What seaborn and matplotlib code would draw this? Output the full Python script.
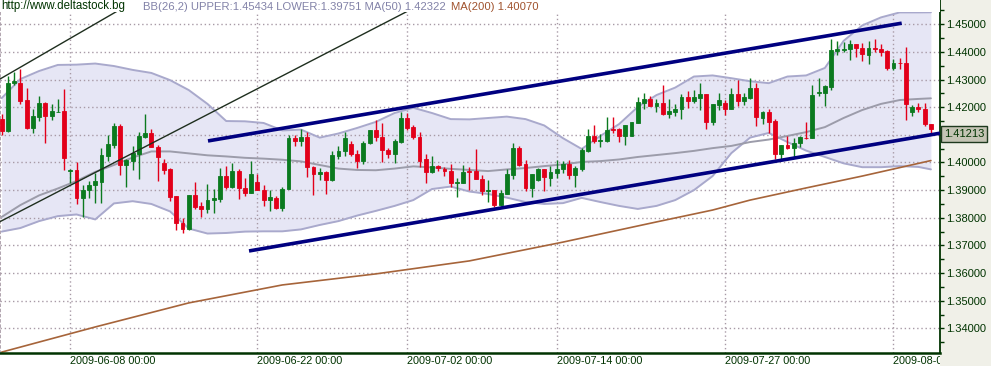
import numpy as np
import matplotlib
matplotlib.use("Agg")
import matplotlib.pyplot as plt
import seaborn as sns
from matplotlib.patches import Rectangle
from matplotlib.transforms import Bbox, TransformedBbox, blended_transform_factory

# ---------------- data ----------------
opens = [1.4157,1.4113,1.4288,1.4289,1.4225,1.4125,1.4165,1.4217,1.4169,1.4182,
         1.4186,1.3969,1.3972,1.3870,1.3899,1.3917,1.3930,1.4024,1.4065,1.4131,
         1.3990,1.4005,1.4032,1.4093,1.4107,1.4057,1.3999,1.3975,1.3877,1.3781,
         1.3760,1.3883,1.3841,1.3832,1.3865,1.3869,1.3951,1.3911,1.3971,1.3908,
         1.3889,1.3929,1.3902,1.3865,1.3872,1.3835,1.3905,1.4089,1.4077,1.4094,
         1.3985,1.3958,1.3967,1.3935,1.4025,1.4041,1.4067,1.4031,1.4005,1.4070,
         1.4116,1.4094,1.4047,1.4031,1.4073,1.4160,1.4128,1.4092,1.4011,1.3965,
         1.3988,1.3976,1.3971,1.3925,1.3926,1.3971,1.3971,1.3941,1.3898,1.3900,
         1.3848,1.3885,1.3954,1.4051,1.3993,1.3908,1.3936,1.3975,1.3945,1.3963,
         1.3978,1.3996,1.3954,1.3978,1.4042,1.4095,1.4077,1.4078,1.4120,1.4120,
         1.4096,1.4096,1.4143,1.4217,1.4229,1.4205,1.4216,1.4177,1.4183,1.4193,
         1.4237,1.4223,1.4234,1.4247,1.4147,1.4207,1.4217,1.4193,1.4247,1.4223,
         1.4234,1.4270,1.4161,1.4181,1.4151,1.4030,1.4063,1.4053,1.4069,1.4090,
         1.4089,1.4252,1.4252,1.4273,1.4404,1.4408,1.4410,1.4430,1.4416,1.4390,
         1.4416,1.4412,1.4402,1.4342,1.4361,1.4361,1.4181,1.4201,1.4195,1.4141]
highs = [1.4177,1.4313,1.4328,1.4340,1.4270,1.4192,1.4240,1.4219,1.4213,1.4228,
         1.4265,1.3975,1.4000,1.3918,1.3934,1.3963,1.4051,1.4101,1.4143,1.4141,
         1.4012,1.4059,1.4111,1.4177,1.4123,1.4063,1.4014,1.3981,1.3879,1.3800,
         1.3884,1.3931,1.3857,1.3923,1.3905,1.3981,1.3989,1.3999,1.3975,1.3945,
         1.4007,1.3959,1.3920,1.3899,1.3877,1.3913,1.4101,1.4101,1.4122,1.4112,
         1.3989,1.3981,1.3971,1.4043,1.4061,1.4110,1.4076,1.4046,1.4079,1.4118,
         1.4152,1.4143,1.4053,1.4086,1.4182,1.4178,1.4134,1.4110,1.4029,1.4025,
         1.3992,1.3983,1.3995,1.3943,1.3992,1.3985,1.4049,1.3955,1.3936,1.3902,
         1.3902,1.3975,1.4069,1.4059,1.4008,1.3960,1.3981,1.3978,1.3988,1.4008,
         1.4006,1.4008,1.3987,1.4054,1.4120,1.4135,1.4102,1.4163,1.4163,1.4126,
         1.4137,1.4147,1.4237,1.4252,1.4240,1.4229,1.4280,1.4231,1.4211,1.4247,
         1.4259,1.4261,1.4289,1.4247,1.4213,1.4253,1.4225,1.4270,1.4298,1.4250,
         1.4306,1.4286,1.4186,1.4195,1.4159,1.4065,1.4095,1.4090,1.4095,1.4145,
         1.4280,1.4306,1.4280,1.4446,1.4439,1.4436,1.4442,1.4430,1.4434,1.4439,
         1.4448,1.4430,1.4406,1.4373,1.4378,1.4418,1.4207,1.4216,1.4216,1.4141]
lows = [1.4099,1.4111,1.4280,1.4211,1.4123,1.4107,1.4151,1.4069,1.4153,1.4181,
        1.3972,1.3926,1.3849,1.3804,1.3870,1.3854,1.3854,1.4006,1.4053,1.3954,
        1.3912,1.3972,1.3942,1.4089,1.4057,1.3934,1.3960,1.3860,1.3757,1.3745,
        1.3757,1.3832,1.3802,1.3817,1.3818,1.3857,1.3905,1.3908,1.3869,1.3877,
        1.3889,1.3899,1.3842,1.3824,1.3832,1.3824,1.3904,1.4059,1.4061,1.3947,
        1.3884,1.3935,1.3887,1.3932,1.4011,1.4022,1.4023,1.3979,1.3995,1.4067,
        1.4079,1.4001,1.4016,1.3998,1.4070,1.4119,1.4086,1.3985,1.3925,1.3961,
        1.3971,1.3951,1.3911,1.3875,1.3925,1.3899,1.3939,1.3881,1.3858,1.3840,
        1.3843,1.3885,1.3942,1.3987,1.3898,1.3876,1.3934,1.3898,1.3916,1.3945,
        1.3963,1.3942,1.3912,1.3970,1.4039,1.4069,1.4057,1.4075,1.4107,1.4075,
        1.4063,1.4096,1.4143,1.4195,1.4204,1.4183,1.4173,1.4161,1.4169,1.4159,
        1.4198,1.4216,1.4189,1.4123,1.4137,1.4189,1.4173,1.4193,1.4205,1.4207,
        1.4231,1.4131,1.4139,1.4108,1.4012,1.4011,1.4048,1.4017,1.4057,1.4084,
        1.4089,1.4241,1.4205,1.4261,1.4390,1.4400,1.4370,1.4382,1.4367,1.4358,
        1.4400,1.4384,1.4336,1.4336,1.4340,1.4153,1.4167,1.4181,1.4132,1.4101]
closes = [1.4113,1.4289,1.4294,1.4223,1.4125,1.4167,1.4217,1.4167,1.4186,1.4184,
          1.4017,1.3972,1.3870,1.3900,1.3918,1.3932,1.4026,1.4066,1.4131,1.3990,
          1.4008,1.4035,1.4095,1.4107,1.4057,1.4020,1.3972,1.3875,1.3781,1.3760,
          1.3883,1.3838,1.3832,1.3866,1.3871,1.3951,1.3911,1.3971,1.3908,1.3889,
          1.3957,1.3901,1.3865,1.3875,1.3836,1.3905,1.4089,1.4077,1.4094,1.3983,
          1.3957,1.3967,1.3935,1.4028,1.4043,1.4089,1.4029,1.4005,1.4071,1.4116,
          1.4092,1.4046,1.4031,1.4076,1.4160,1.4124,1.4092,1.4007,1.3965,1.3987,
          1.3981,1.3969,1.3925,1.3931,1.3967,1.3967,1.3940,1.3896,1.3900,1.3848,
          1.3888,1.3957,1.4051,1.3990,1.3908,1.3957,1.3976,1.3946,1.3964,1.3978,
          1.3996,1.3954,1.3981,1.4045,1.4095,1.4078,1.4083,1.4119,1.4117,1.4096,
          1.4135,1.4145,1.4219,1.4228,1.4205,1.4214,1.4177,1.4186,1.4195,1.4237,
          1.4223,1.4237,1.4247,1.4147,1.4211,1.4225,1.4193,1.4247,1.4223,1.4237,
          1.4270,1.4163,1.4181,1.4147,1.4030,1.4063,1.4053,1.4071,1.4093,1.4087,
          1.4243,1.4255,1.4276,1.4406,1.4410,1.4412,1.4430,1.4414,1.4392,1.4416,
          1.4410,1.4400,1.4342,1.4361,1.4359,1.4213,1.4201,1.4193,1.4141,1.41213]

# indicator lines, sampled every 3 candles
band_idx = list(range(0, 148, 3)) + [149]
bb_upper = [1.4233,1.4302,1.4331,1.4353,1.4354,1.4358,1.4349,1.4335,1.4324,1.4298,
            1.4262,1.4212,1.4150,1.4149,1.4143,1.4116,1.4119,1.4090,1.4105,1.4125,
            1.4147,1.4179,1.4198,1.4179,1.4157,1.4156,1.4161,1.4166,1.4157,1.4134,
            1.4088,1.4049,1.4096,1.4139,1.4201,1.4244,1.4271,1.4311,1.4315,1.4305,
            1.4294,1.4287,1.4311,1.4315,1.4342,1.4440,1.4496,1.4525,1.4543,1.4543,1.45434]
bb_lower = [1.3750,1.3763,1.3788,1.3806,1.3812,1.3794,1.3852,1.3860,1.3850,1.3823,
            1.3761,1.3743,1.3745,1.3750,1.3751,1.3751,1.3758,1.3774,1.3788,1.3808,
            1.3825,1.3843,1.3864,1.3904,1.3913,1.3895,1.3886,1.3873,1.3857,1.3850,
            1.3853,1.3872,1.3857,1.3843,1.3832,1.3843,1.3864,1.3900,1.3951,1.4034,
            1.4090,1.4107,1.4074,1.4043,1.4020,1.3997,1.3983,1.3983,1.3987,1.3984,1.39751]
ma50 = [1.3803,1.3846,1.3881,1.3906,1.3933,1.3966,1.3991,1.4018,1.4040,1.4040,
        1.4033,1.4026,1.4022,1.4017,1.4014,1.4010,1.4004,1.3991,1.3978,1.3973,
        1.3972,1.3978,1.3986,1.3982,1.3977,1.3973,1.3969,1.3975,1.3980,1.3987,
        1.3993,1.4002,1.4005,1.4011,1.4020,1.4027,1.4034,1.4042,1.4052,1.4060,
        1.4074,1.4083,1.4096,1.4110,1.4128,1.4161,1.4190,1.4212,1.4226,1.4230,1.42322]
ma200_idx = [0, 15, 30, 45, 60, 75, 90, 105, 114, 120, 129, 138, 149]
ma200 = [1.3314,1.3405,1.3492,1.3557,1.3597,1.3644,1.3712,1.3785,1.3828,1.3864,1.3908,1.3951,1.4007]

# drawn trend lines (start/end: candle index, price)
channel_x = [[33.08, 144.32], [39.66, 150.46]]
channel_y = [[1.4078, 1.4504], [1.3680, 1.4106]]
thin_x = [[-0.27, 22.0], [-0.27, 69.0]]
thin_y = [[1.4302, 1.4593], [1.3786, 1.4593]]

tick_idx = [11, 41, 65, 89, 116, 143]
tick_labels = ["2009-06-08 00:00", "2009-06-22 00:00", "2009-07-02 00:00",
               "2009-07-14 00:00", "2009-07-27 00:00", "2009-08-07 00:00"]
price_ticks = [1.34, 1.35, 1.36, 1.37, 1.38, 1.39, 1.40, 1.41, 1.42, 1.43, 1.44, 1.45]
# the 1.41000 label is hidden behind the last-price box in the reference
price_labels = ["1.34000", "1.35000", "1.36000", "1.37000", "1.38000", "1.39000",
                "1.40000", "", "1.42000", "1.43000", "1.44000", "1.45000"]
last_price_label = "1.41213"
header_site = "http://www.deltastock.bg"
header_bb = "BB(26,2) UPPER:1.45434 LOWER:1.39751 MA(50) 1.42322"
header_ma200 = "MA(200) 1.40070"

# ---------------- styling ----------------
sns.set_theme(style="white")
plt.rcParams["font.family"] = ["Liberation Sans", "DejaVu Sans"]

GREEN = "#0B7A1F"
RED = "#E2001A"
DKGREEN = "#003300"
GRID = "#A89AA6"

W, H = 991, 366
fig = plt.figure(figsize=(W / 100, H / 100), dpi=100, facecolor="white")
fig.patches.append(Rectangle((940 / W, 0), 51 / W, 1, transform=fig.transFigure,
                             facecolor="#F0F0E8", edgecolor="none", zorder=-1))
ax = fig.add_axes([0, 13 / H, 940 / W, 353 / H])
ax.set_facecolor("white")
ax.set_xlim(-0.27, 150.46)
ax.set_ylim(1.33108, 1.45879)

# Bollinger band fill and lines
ax.fill_between(band_idx, bb_lower, bb_upper, color="#E6E6F5", lw=0, zorder=1)
sns.lineplot(x=band_idx, y=bb_upper, ax=ax, color="#A9A9CC", lw=1.4, sort=False,
             estimator=None, legend=False, zorder=2)
sns.lineplot(x=band_idx, y=bb_lower, ax=ax, color="#A9A9CC", lw=1.4, sort=False,
             estimator=None, legend=False, zorder=2)
sns.lineplot(x=band_idx, y=ma50, ax=ax, color="#9C9CAA", lw=1.4, sort=False,
             estimator=None, legend=False, zorder=2)
sns.lineplot(x=ma200_idx, y=ma200, ax=ax, color="#A6643A", lw=1.2, sort=False,
             estimator=None, legend=False, zorder=2)

# candles
o = np.array(opens); h = np.array(highs); l = np.array(lows); c = np.array(closes)
idx = np.arange(len(o))
cols = np.where(c >= o, GREEN, RED)
ax.vlines(idx, l, h, colors=cols, lw=1.0, zorder=3)
ax.bar(idx, c - o, bottom=o, width=0.62, color=cols, edgecolor=cols, lw=0.6, zorder=4)

# trend lines
for xs, ys in zip(thin_x, thin_y):
    ax.plot(xs, ys, color="#1E2E1E", lw=1.0, zorder=5)
for xs, ys in zip(channel_x, channel_y):
    ax.plot(xs, ys, color="#000080", lw=2.6, zorder=5, solid_capstyle="butt")

# grid
ax.set_axisbelow("line")
ax.set_yticks(price_ticks, labels=price_labels)
ax.set_yticks([v + 0.005 for v in price_ticks] + [1.335], minor=True)
ax.set_xticks(tick_idx, labels=tick_labels)
ax.grid(True, which="major", color=GRID, lw=1.0, ls=(0, (1, 2)))

ax.yaxis.tick_right()
ax.tick_params(axis="y", which="both", direction="out", length=3, width=1,
               color=DKGREEN, labelcolor=DKGREEN, labelsize=8, pad=1.5, right=True, left=False)
ax.tick_params(axis="x", length=0, labelcolor=DKGREEN, labelsize=7.8, pad=2)
for lbl in ax.get_xticklabels():
    lbl.set_horizontalalignment("left")
    lbl.set_clip_on(True)
    lbl.set_clip_box(TransformedBbox(Bbox([[0, 0], [940 / W, 1]]), fig.transFigure))

ax.spines["top"].set_visible(False)
ax.spines["left"].set_visible(True)
ax.spines["left"].set_color(GRID)
ax.spines["left"].set_linestyle((0, (1, 2)))
ax.spines["right"].set_color(DKGREEN)
ax.spines["right"].set_linewidth(1.3)
ax.spines["bottom"].set_color(DKGREEN)
ax.spines["bottom"].set_linewidth(1.8)

# header band
ax.add_patch(Rectangle((0, 1 - 12 / 353), 1, 12 / 353, transform=ax.transAxes,
                       facecolor="white", edgecolor="none", zorder=6))
ax.text(1 / 940, 1 - 6.5 / 353, header_site, transform=ax.transAxes, ha="left",
        va="center", color=DKGREEN, fontsize=8.3, zorder=7)
t2 = ax.text(143 / 940, 1 - 6.5 / 353, header_bb, transform=ax.transAxes, ha="left",
             va="center", color="#8282A8", fontsize=8.1, zorder=7)
ax.annotate(header_ma200, xy=(1, 0.5), xycoords=t2, xytext=(4, 0),
            textcoords="offset points", ha="left", va="center", color="#A0522D",
            fontsize=8.1, zorder=7)

# last price box
trans = blended_transform_factory(ax.transAxes, ax.transData)
ax.text(1 + 4 / 940, closes[-1], last_price_label, transform=trans, ha="left", va="top",
        color=DKGREEN, fontsize=8, clip_on=False, zorder=10,
        bbox=dict(boxstyle="square,pad=0.25", fc="#C4C4B4", ec="#1E3A1E", lw=1))

fig.savefig("out.png", dpi=100, facecolor="white")
